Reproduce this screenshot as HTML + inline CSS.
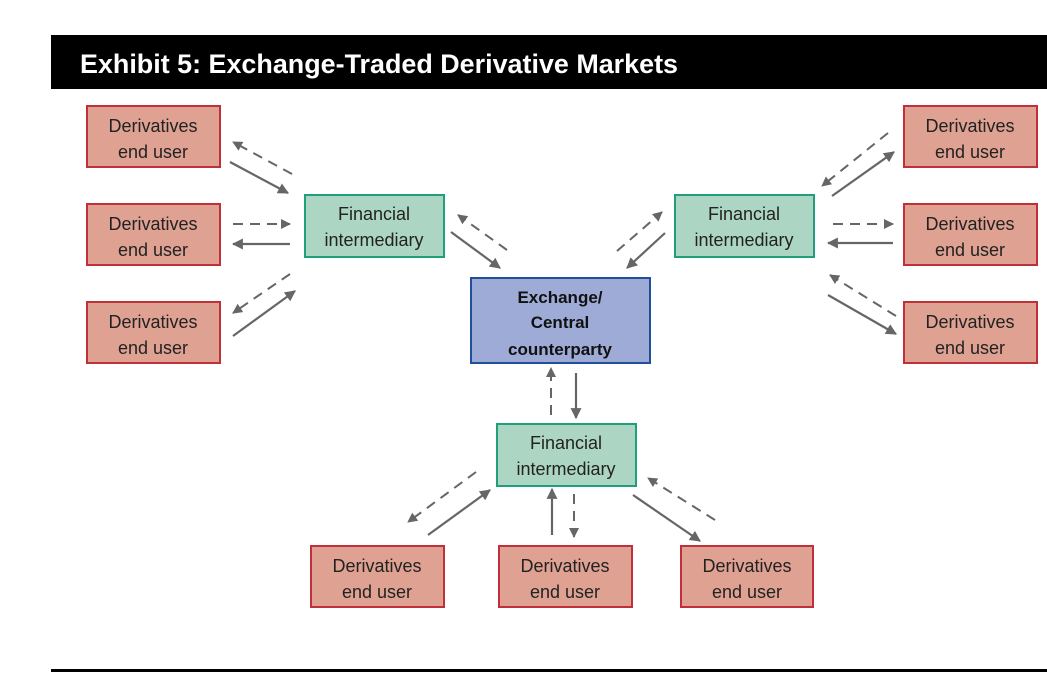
<!DOCTYPE html>
<html><head><meta charset="utf-8"><style>
body{margin:0;background:#fff;width:1047px;height:680px;overflow:hidden}
svg text{font-family:"Liberation Sans",sans-serif}
</style></head><body>
<svg width="1047" height="680" viewBox="0 0 1047 680">
<defs>
<marker id="a" viewBox="0 0 10 10" refX="9" refY="5" markerWidth="5" markerHeight="5" orient="auto"><path d="M0,0L10,5L0,10z" fill="#666"/></marker>
</defs>
<rect x="51" y="35" width="996" height="54" fill="#000"/>
<text x="80" y="73" fill="#fff" font-size="27" font-weight="bold" textLength="598" lengthAdjust="spacingAndGlyphs">Exhibit 5: Exchange-Traded Derivative Markets</text>
<rect x="51" y="669" width="996" height="3" fill="#000"/>
<g fill="#dfa191" stroke="#c0303a" stroke-width="2">
<rect x="87" y="106" width="133" height="61"/><rect x="87" y="204" width="133" height="61"/><rect x="87" y="302" width="133" height="61"/>
<rect x="904" y="106" width="133" height="61"/><rect x="904" y="204" width="133" height="61"/><rect x="904" y="302" width="133" height="61"/>
<rect x="311" y="546" width="133" height="61"/><rect x="499" y="546" width="133" height="61"/><rect x="681" y="546" width="132" height="61"/>
</g>
<g fill="#acd6c3" stroke="#1fa07a" stroke-width="2">
<rect x="305" y="195" width="139" height="62"/><rect x="675" y="195" width="139" height="62"/><rect x="497" y="424" width="139" height="62"/>
</g>
<rect x="471" y="278" width="179" height="85" fill="#9dabd6" stroke="#1f4e9a" stroke-width="2"/>
<g font-size="18" fill="#222" text-anchor="middle">
<text x="153" y="132">Derivatives</text><text x="153" y="158">end user</text>
<text x="153" y="230">Derivatives</text><text x="153" y="256">end user</text>
<text x="153" y="328">Derivatives</text><text x="153" y="354">end user</text>
<text x="970" y="132">Derivatives</text><text x="970" y="158">end user</text>
<text x="970" y="230">Derivatives</text><text x="970" y="256">end user</text>
<text x="970" y="328">Derivatives</text><text x="970" y="354">end user</text>
<text x="377" y="572">Derivatives</text><text x="377" y="598">end user</text>
<text x="565" y="572">Derivatives</text><text x="565" y="598">end user</text>
<text x="747" y="572">Derivatives</text><text x="747" y="598">end user</text>
<text x="374" y="220">Financial</text><text x="374" y="246">intermediary</text>
<text x="744" y="220">Financial</text><text x="744" y="246">intermediary</text>
<text x="566" y="449">Financial</text><text x="566" y="475">intermediary</text>
</g>
<g font-size="17" font-weight="bold" fill="#111" text-anchor="middle">
<text x="560" y="303">Exchange/</text><text x="560" y="328">Central</text><text x="560" y="355">counterparty</text>
</g>
<g stroke="#666" stroke-width="2.2" fill="none" marker-end="url(#a)">
<path d="M230,162L288,193"/><path d="M290,244L233,244"/><path d="M233,336L295,291"/>
<path d="M451,232L500,268"/><path d="M665,233L627,268"/>
<path d="M832,196L894,152"/><path d="M893,243L828,243"/><path d="M828,295L896,334"/>
<path d="M576,373L576,418"/>
<path d="M428,535L490,490"/><path d="M552,535L552,489"/><path d="M633,495L700,541"/>
</g>
<g stroke="#666" stroke-width="2" fill="none" stroke-dasharray="10,7" marker-end="url(#a)">
<path d="M292,174L233,142"/><path d="M233,224L290,224"/><path d="M290,274L233,313"/>
<path d="M507,250L458,215"/><path d="M617,251L662,212"/>
<path d="M888,133L822,186"/><path d="M833,224L893,224"/><path d="M896,316L830,275"/>
<path d="M551,415L551,368"/>
<path d="M476,472L408,522"/><path d="M574,494L574,537"/><path d="M715,520L648,478"/>
</g>
</svg>
</body></html>
